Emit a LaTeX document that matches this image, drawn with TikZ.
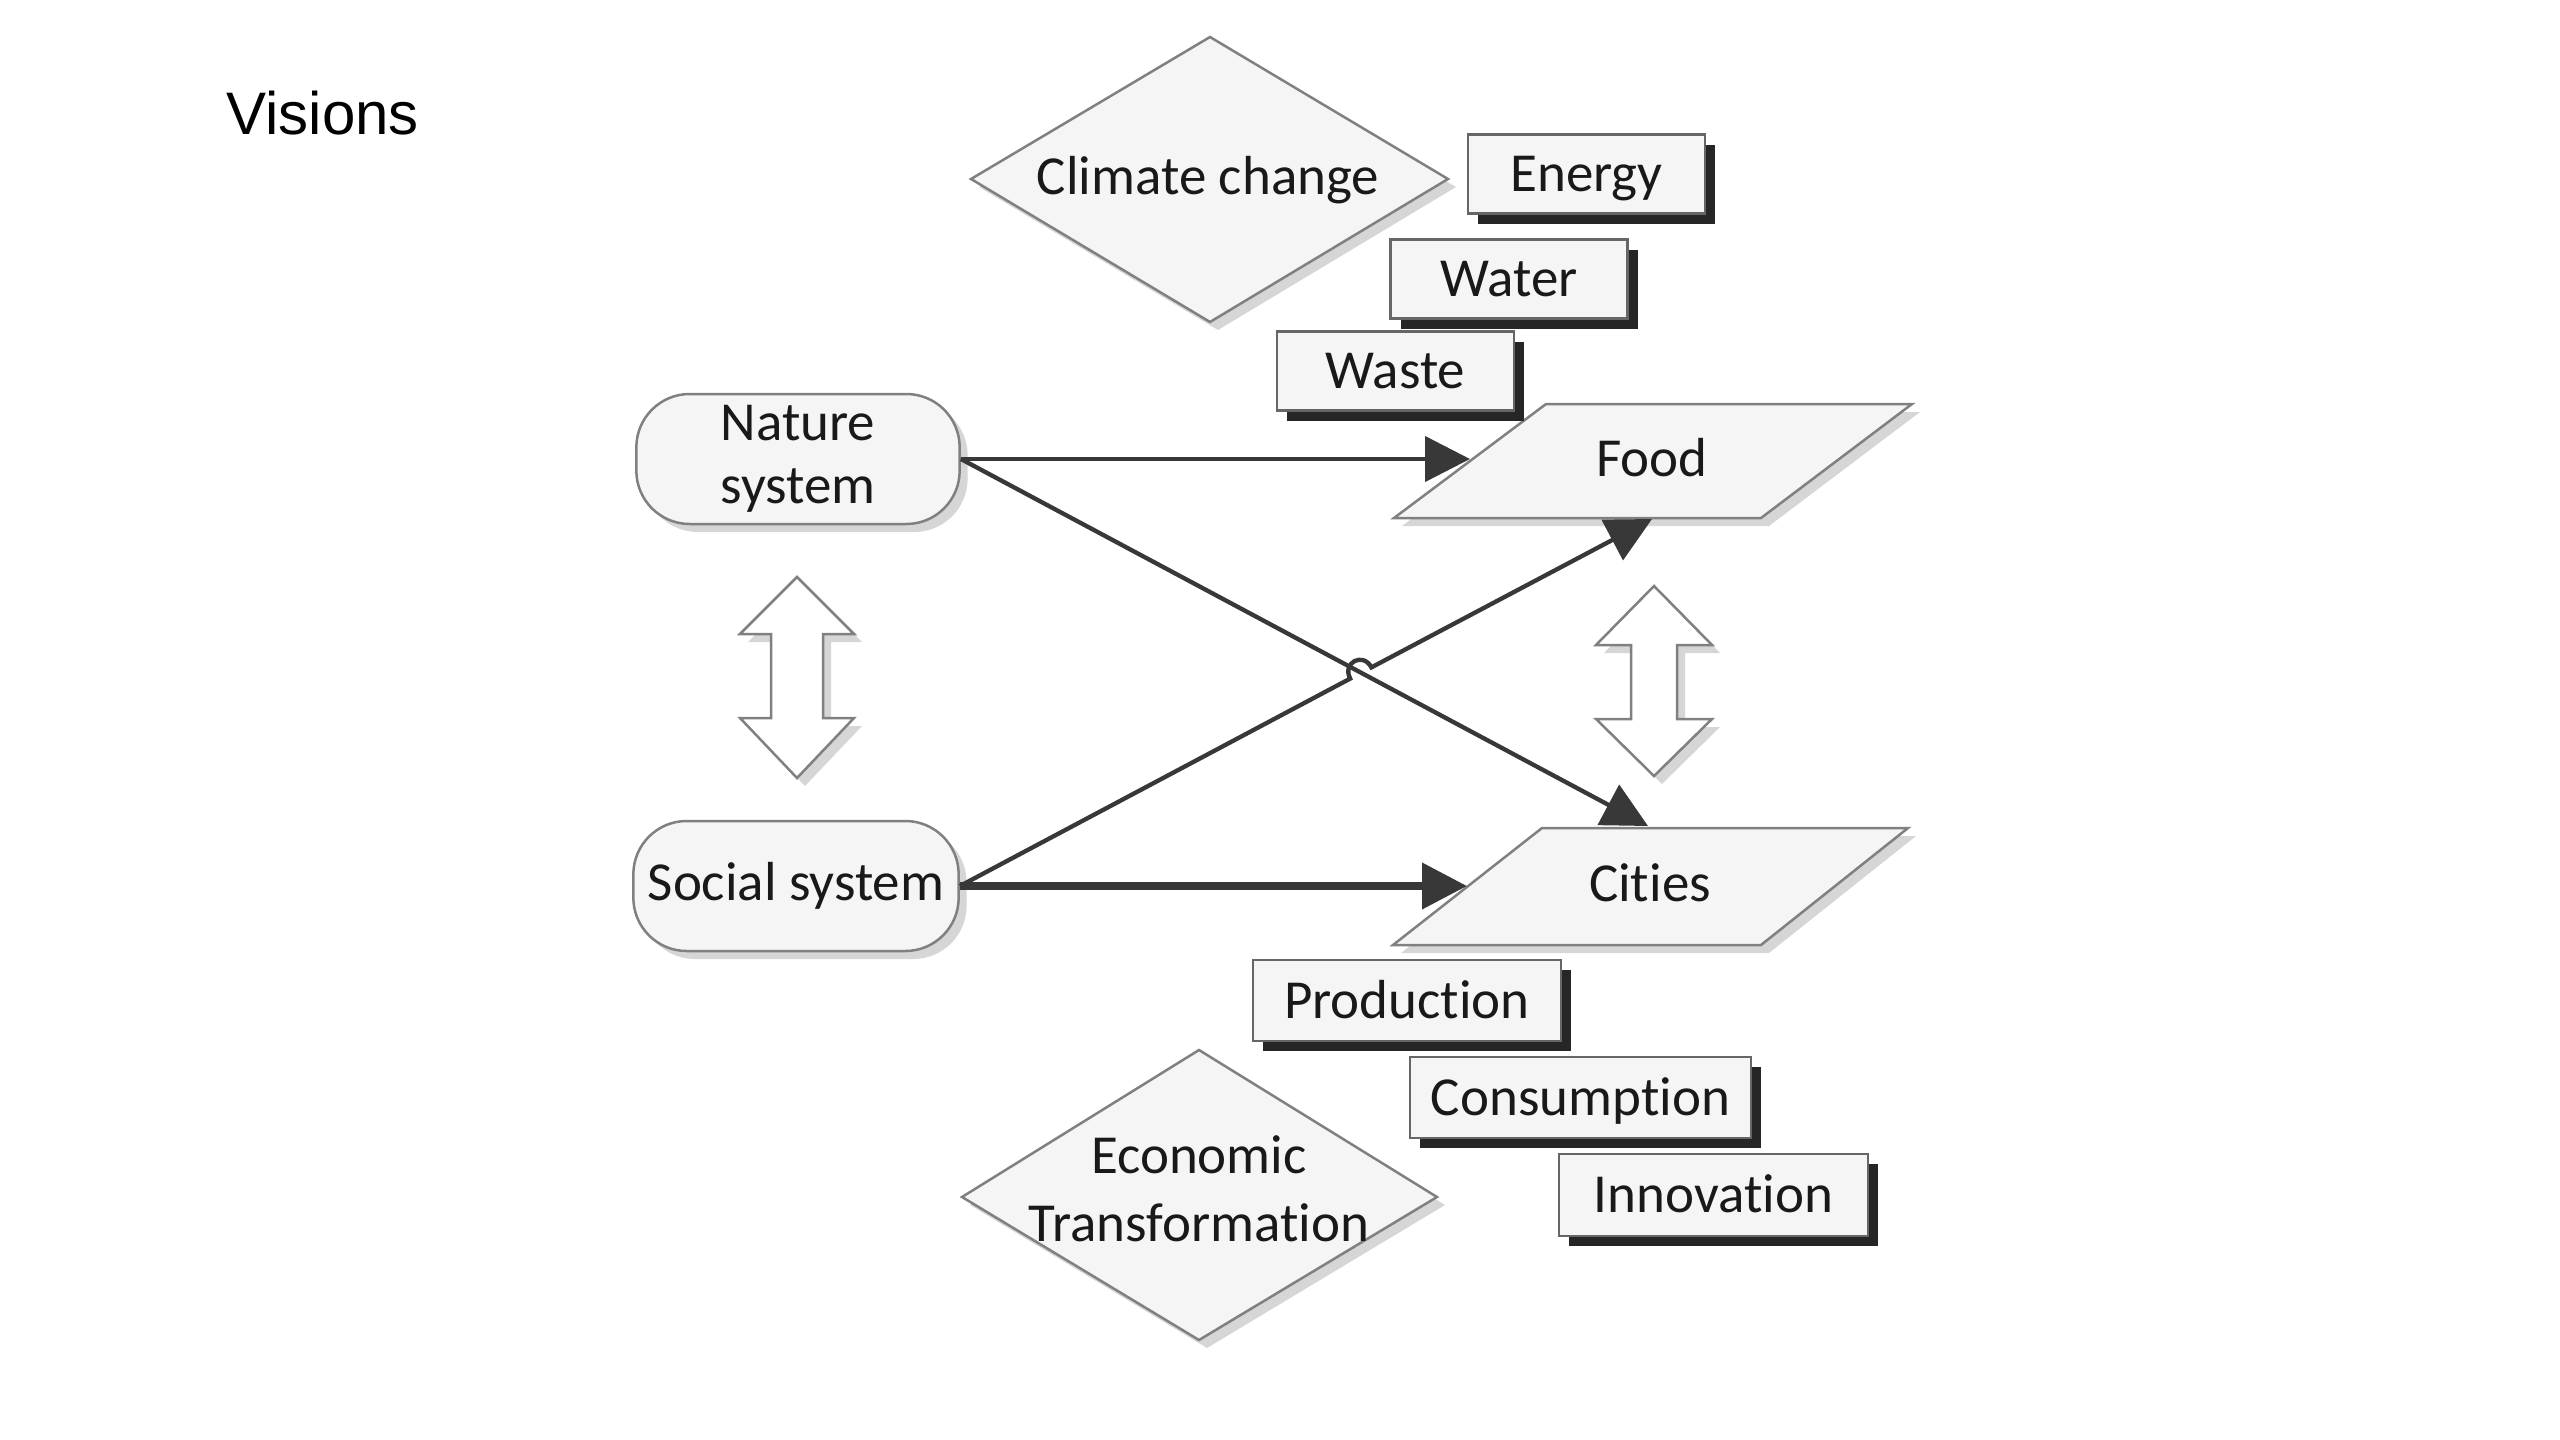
\documentclass[tikz,border=0pt]{standalone}
\usepackage{fontspec}
\setmainfont{Carlito}[Ligatures={NoCommon,NoContextual,NoRequired}, Contextuals=NoAlternate]
\newfontfamily\visfont{Liberation Sans}
\usetikzlibrary{arrows.meta,shadows,calc}
\begin{document}
\begin{tikzpicture}[x=0.3pt,y=-0.3pt,
  lbl/.style={font=\fontsize{16.5}{19}\selectfont, text=black!90, align=center, inner sep=0pt},
  capctr/.style={text height=10.6pt, text depth=0pt},
  lightshadow/.style={drop shadow={shadow xshift=2.4pt, shadow yshift=-2.4pt, fill=black!16, opacity=1}},
  shapefill/.style={draw=black!50, line width=0.75pt, fill=black!4, lightshadow},
  tagbox/.style={draw=black!60, line width=0.8pt, fill=black!4, minimum height=23.7pt, inner sep=0pt,
    capctr, text=black!90, font=\fontsize{16.5}{19}\selectfont,
    drop shadow={shadow xshift=3pt, shadow yshift=-3pt, fill=black!85, opacity=1}},
  sysbox/.style={shapefill, rounded corners=16pt, minimum width=97pt, minimum height=39pt, inner sep=0pt,
    align=center, text=black!90, font=\fontsize{16.5}{19}\selectfont},
  conn/.style={draw=black!78, line width=1.3pt, -{Triangle[length=13.5pt,width=13.5pt]}},
  blockarrow/.style={draw=black!50, line width=0.75pt, fill=white, lightshadow}
]
\useasboundingbox (0,0) rectangle (2560,1440);

% title
\node[anchor=base west, inner sep=0pt, font=\visfont\fontsize{18}{21}\selectfont] (title) at (226,134) {Visions};

% diamonds
\path[shapefill] (971,179) -- (1210,37) -- (1448,179) -- (1210,322) -- cycle;
\node[lbl, capctr] (climate) at (1208,177) {Climate change};
\path[shapefill] (962,1197) -- (1199,1050) -- (1437,1197) -- (1199,1340) -- cycle;
\node[lbl, font=\fontsize{16.5}{20.4}\selectfont] (econ) at (1199,1189) {Economic\\Transformation};

% parallelograms
\path[shapefill] (1546,404) -- (1912,404) -- (1761,518) -- (1394,518) -- cycle;
\node[lbl, capctr] (food) at (1652,459) {Food};
\path[shapefill] (1542,828) -- (1908,828) -- (1761,945) -- (1393,945) -- cycle;
\node[lbl, capctr] (cities) at (1650,884) {Cities};

% system boxes
\node[sysbox] (nature) at (798,459) {Nature\\system};
\node[sysbox, minimum width=97.6pt] (social) at (796,886) {Social system};

% block double arrows
\path[blockarrow] (797,577) -- (854,634) -- (823,634) -- (823,718) -- (854,718) -- (797,778)
  -- (740,718) -- (771,718) -- (771,634) -- (740,634) -- cycle;
\path[blockarrow] (1654,586) -- (1712,645) -- (1677,645) -- (1677,719) -- (1712,719) -- (1654,776)
  -- (1596,719) -- (1631,719) -- (1631,645) -- (1596,645) -- cycle;

% tag boxes
\node[tagbox, minimum width=71.1pt] (energy) at (1586.5,174) {Energy};
\node[tagbox, minimum width=71.1pt] (water) at (1509,279) {Water};
\node[tagbox, minimum width=71.1pt] (waste) at (1395.5,371) {Waste};
\node[tagbox, minimum width=92.4pt, minimum height=24.3pt] (production) at (1407,1000.5) {Production};
\node[tagbox, minimum width=102.3pt, minimum height=24.3pt] (consumption) at (1580.5,1097.5) {Consumption};
\node[tagbox, minimum width=92.7pt, minimum height=24.6pt] (innovation) at (1713.5,1195) {Innovation};

% connector end points
\coordinate (foodL) at (1470,459);
\coordinate (foodB) at (1652,519);
\coordinate (citiesT) at (1648,826);
\coordinate (citiesL) at (1467,886);
\coordinate (hopA) at (1350.2,678.6);
\coordinate (hopB) at (1371.4,667.4);

% connectors
\draw[conn] (nature.east) -- (foodL);
\draw[conn] (nature.east) -- (citiesT);
\draw[conn] (social.east) -- (hopA) .. controls (1341.8,662.7) and (1363.0,651.5) .. (hopB) -- (foodB);
\draw[conn, line width=2.2pt] (social.east) -- (citiesL);
\end{tikzpicture}
\end{document}
